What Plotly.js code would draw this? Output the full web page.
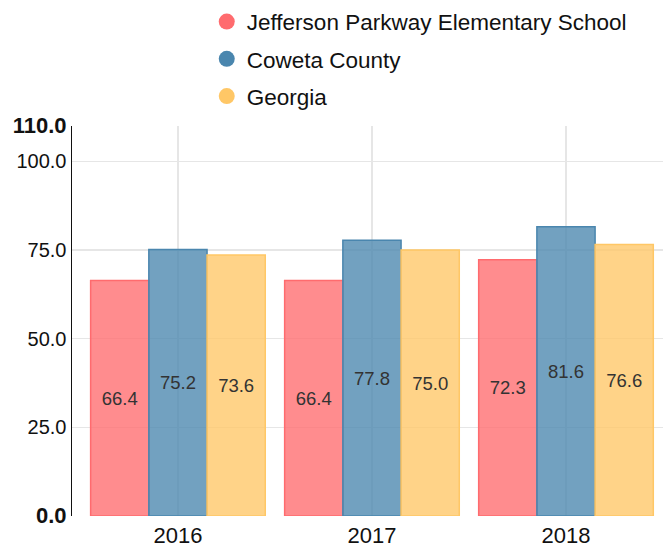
<!DOCTYPE html>
<html><head><meta charset="utf-8">
<script src="https://cdn.plot.ly/plotly-3.0.1.min.js"></script>
<style>body{margin:0}#chart{width:663px;height:547px}</style>
</head><body><div id="chart"></div>
<script>
const years = ['2016', '2017', '2018'];
const seriesNames = ['Jefferson Parkway Elementary School', 'Coweta County', 'Georgia'];
const school = [66.4, 66.4, 72.3];
const county = [75.2, 77.8, 81.6];
const state = [73.6, 75.0, 76.6];
const yTickVals = [0, 25, 50, 75, 100, 110];
const yTickText = ['<span style="font-size:22px"><b>0.0</b></span>', '25.0', '50.0', '75.0', '100.0', '<span style="font-size:22px"><b>110.0</b></span>'];

const colors = [[255,107,110],[74,134,174],[255,199,102]];
const values = [school, county, state];
const traces = [];
values.forEach((v, i) => {
  const c = colors[i];
  traces.push({
    type: 'bar', x: years, y: v, name: seriesNames[i], showlegend: false,
    text: v.map(n => n.toFixed(1)), textposition: 'inside', insidetextanchor: 'middle',
    textfont: {size: 18.5, color: '#333', family: 'Liberation Sans, Arial, sans-serif'},
    marker: {color: `rgba(${c[0]},${c[1]},${c[2]},0.78)`, line: {color: `rgb(${c[0]},${c[1]},${c[2]})`, width: 1.5}},
    hoverinfo: 'skip'
  });
});
values.forEach((v, i) => {
  const c = colors[i];
  traces.push({
    type: 'scatter', mode: 'markers', x: [null], y: [null], name: seriesNames[i],
    legendgroup: 'g' + i,
    marker: {symbol: 'circle', size: 22, color: `rgb(${c[0]},${c[1]},${c[2]})`},
    showlegend: true
  });
});

const layout = {
  width: 663, height: 547,
  margin: {l: 72, r: 0, t: 126, b: 31},
  paper_bgcolor: '#fff', plot_bgcolor: '#fff',
  font: {family: 'Liberation Sans, Arial, sans-serif', color: '#111', size: 20},
  barmode: 'group', bargap: 0.1, bargroupgap: 0,
  xaxis: {type: 'category', range: [-0.546, 2.5], showgrid: true, gridcolor: '#e6e6e6', gridwidth: 1.5,
    tickfont: {size: 22}, ticks: '', ticklabelstandoff: 4, showline: false, zeroline: false, fixedrange: true},
  yaxis: {range: [0, 110], tickvals: yTickVals, ticktext: yTickText, showgrid: true, gridcolor: '#e6e6e6', gridwidth: 1.5,
    showline: true, linecolor: '#111', linewidth: 1.5, ticks: '', tickfont: {size: 20}, zeroline: false, fixedrange: true},
  legend: {x: 0.228, y: 1.322, xanchor: 'left', yanchor: 'top', font: {size: 22.5}, bgcolor: 'rgba(0,0,0,0)',
    itemsizing: 'trace', tracegroupgap: 5, traceorder: 'grouped'},
  showlegend: true
};
Plotly.newPlot('chart', traces, layout, {displayModeBar: false, staticPlot: true});
</script></body></html>
